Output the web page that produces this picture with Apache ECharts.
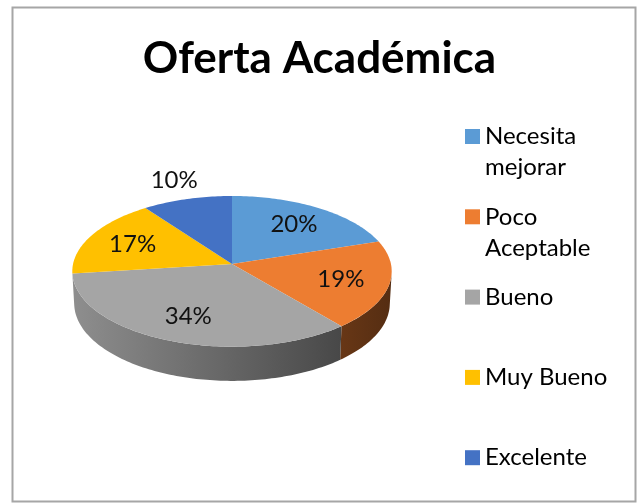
<!DOCTYPE html>
<html>
<head>
<meta charset="utf-8">
<script src="https://cdn.jsdelivr.net/npm/echarts@6/dist/echarts.min.js"></script>
<style>
  html, body { margin: 0; padding: 0; background: #fff; }
  #chart { width: 639px; height: 504px; }
</style>
</head>
<body>
<div id="chart"></div>
<script>
const categories = ['Necesita mejorar', 'Poco Aceptable', 'Bueno', 'Muy Bueno', 'Excelente'];
const legendLabels = ['Necesita\nmejorar', 'Poco\nAceptable', 'Bueno', 'Muy Bueno', 'Excelente'];
const values = [20, 19, 34, 17, 10];
const colors = ['#5B9BD5', '#ED7D31', '#A5A5A5', '#FFC000', '#4472C4'];

// simple perspective camera for the tilted pie (unit radius disc)
const cam = { D: 8, alpha: 28 * Math.PI / 180, k: 1440, ox: 232, oy: 264, h: 0.23 };
const camH = cam.D * Math.tan(cam.alpha);
const sinA = Math.sin(cam.alpha), cosA = Math.cos(cam.alpha);

const total = values.reduce((a, b) => a + b, 0);
const starts = [];
let acc = 0;
values.forEach(v => { starts.push(acc); acc += v; });

function shade(hex, f) {
  const n = parseInt(hex.slice(1), 16);
  const r = Math.round(((n >> 16) & 255) * f);
  const g = Math.round(((n >> 8) & 255) * f);
  const b = Math.round((n & 255) * f);
  return `rgb(${r},${g},${b})`;
}

function project(x, y, z) {
  const d = -(y - camH) * sinA + (z + cam.D) * cosA;
  const sx = x / d;
  const sy = ((y - camH) * cosA + (z + cam.D) * sinA) / d;
  return [cam.ox + cam.k * sx, cam.oy - cam.k * sy];
}

function rim(t, y) {
  return project(Math.sin(t), y, Math.cos(t));
}

function arcPts(a0, a1, y) {
  const n = Math.max(2, Math.ceil((a1 - a0) / 0.02));
  const pts = [];
  for (let j = 0; j <= n; j++) {
    pts.push(rim(a0 + (a1 - a0) * j / n, y));
  }
  return pts;
}

// part of the wall that faces the camera
const wallFrom = Math.acos(-1 / cam.D);
const wallTo = Math.PI * 2 - wallFrom;

function renderSlice(params, api) {
  const i = params.seriesIndex;
  const v = api.value(0);
  const a0 = starts[i] / total * Math.PI * 2;
  const a1 = (starts[i] + v) / total * Math.PI * 2;
  const color = colors[i];
  const children = [];

  const s0 = Math.max(a0, wallFrom);
  const s1 = Math.min(a1, wallTo);
  if (s1 > s0) {
    const top = arcPts(s0, s1, 0);
    const bottom = arcPts(s0, s1, -cam.h).reverse();
    const left = rim(Math.PI * 1.5, 0)[0], right = rim(Math.PI * 0.5, 0)[0];
    children.push({
      type: 'polygon',
      shape: { points: top.concat(bottom) },
      style: {
        fill: new echarts.graphic.LinearGradient(left, 0, right, 0, [
          { offset: 0, color: shade(color, 0.86) },
          { offset: 1, color: shade(color, 0.36) }
        ], true)
      }
    });
  }

  const apex = project(0, 0, 0);
  children.push({
    type: 'polygon',
    shape: { points: [apex].concat(arcPts(a0, a1, 0)) },
    style: { fill: color }
  });

  const mid = (a0 + a1) / 2;
  const f = v < 12 ? 1.32 : 0.7;
  const lp = project(f * Math.sin(mid), 0, f * Math.cos(mid));
  children.push({
    type: 'text',
    style: {
      text: Math.round(v / total * 100) + '%',
      x: lp[0],
      y: lp[1],
      align: 'center',
      verticalAlign: 'middle',
      fontFamily: 'Lato',
      fontSize: 24,
      fill: '#111'
    }
  });
  return { type: 'group', children: children };
}

const legendFirst = 136;
const legendStep = 80.3;
const lineH = 31;

const chart = echarts.init(document.getElementById('chart'));
chart.setOption({
  animation: false,
  title: {
    text: 'Oferta Académica',
    left: 'center',
    top: 37,
    padding: [0, 0, 0, 9],
    textStyle: { fontFamily: 'Lato', fontWeight: 'bold', fontSize: 44, color: '#000' }
  },
  legend: categories.map((name, i) => {
    const lines = legendLabels[i].split('\n').length;
    return {
      data: [name],
      orient: 'vertical',
      left: 465,
      top: legendFirst + i * legendStep - (15 + lineH * (lines - 1)),
      padding: 0,
      icon: 'rect',
      itemWidth: 15,
      itemHeight: 15,
      selectedMode: false,
      // blank leading lines keep the first text line level with the square
      formatter: n => {
        const lab = legendLabels[categories.indexOf(n)];
        return '\n'.repeat(lab.split('\n').length - 1) + lab;
      },
      textStyle: { fontFamily: 'Lato', fontSize: 24, color: '#000', lineHeight: lineH }
    };
  }),
  graphic: [{
    type: 'rect',
    z: -10,
    shape: { x: 12.5, y: 7.5, width: 623, height: 494 },
    style: { fill: 'none', stroke: '#a6a6a6', lineWidth: 2 }
  }],
  series: categories.map((name, i) => ({
    type: 'custom',
    name: name,
    coordinateSystem: 'none',
    silent: true,
    itemStyle: { color: colors[i] },
    data: [values[i]],
    renderItem: renderSlice
  }))
});
</script>
</body>
</html>
